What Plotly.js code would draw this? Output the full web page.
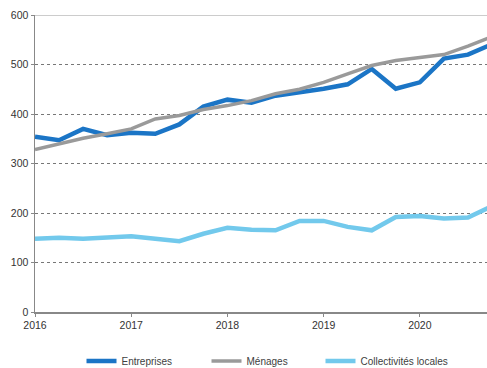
<!DOCTYPE html>
<html>
<head>
<meta charset="utf-8">
<script src="https://cdn.plot.ly/plotly-3.0.1.min.js"></script>
<style>
html,body{margin:0;padding:0;overflow:hidden;background:#fff;}
#chart{width:500px;height:368px;}
</style>
</head>
<body>
<div id="chart"></div>
<script>
// Quarterly dates (decimal years)
const dates = [2016.0, 2016.25, 2016.5, 2016.75, 2017.0, 2017.25, 2017.5, 2017.75,
               2018.0, 2018.25, 2018.5, 2018.75, 2019.0, 2019.25, 2019.5, 2019.75,
               2020.0, 2020.25, 2020.5, 2020.75];
const entreprises = [354, 347, 370, 357, 362, 360, 379, 415, 429, 423, 437, 443,
                     451, 460, 491, 451, 464, 512, 520, 541];
const menages = [328, 339, 351, 360, 370, 390, 397, 409, 417, 427, 441, 450,
                 464, 481, 498, 508, 514, 520, 537, 556];
const collectivites = [148, 150, 148, 150, 153, 148, 143, 158, 170, 166, 165, 184,
                       184, 172, 165, 192, 194, 189, 191, 214];
const seriesNames = ["Entreprises", "Ménages", "Collectivités locales"];
const xTicks = [2016, 2017, 2018, 2019, 2020];
const yTicks = [0, 100, 200, 300, 400, 500, 600];

const font = {family: "Liberation Sans, Arial, sans-serif", size: 10, color: "#404040"};

const traces = [
  {x: dates, y: entreprises, name: seriesNames[0], mode: "lines", legend: "legend",
   line: {color: "#1b75c6", width: 4.5}},
  {x: dates, y: menages, name: seriesNames[1], mode: "lines", legend: "legend2",
   line: {color: "#9a9a9a", width: 3.5}},
  {x: dates, y: collectivites, name: seriesNames[2], mode: "lines", legend: "legend3",
   line: {color: "#72c9ec", width: 4.5}}
];

function leg(xpx) {
  return {orientation: "h", xref: "container", yref: "container",
          x: xpx / 500, xanchor: "left", y: 1 - 361 / 368, yanchor: "middle",
          font: {family: font.family, size: 10, color: "#404040"},
          bgcolor: "rgba(0,0,0,0)"};
}

const layout = {
  width: 500, height: 368,
  margin: {l: 35, r: 8, t: 15, b: 56},
  paper_bgcolor: "#fff", plot_bgcolor: "#fff",
  font: font,
  showlegend: true,
  legend: leg(81.5),
  legend2: leg(206.5),
  legend3: leg(320.5),
  xaxis: {range: [2016, 2020.75], tickvals: xTicks, ticktext: xTicks.map(String),
          showgrid: false, zeroline: false, showline: true, linecolor: "#888", linewidth: 1.5,
          mirror: false, ticks: "outside", ticklen: 3, tickcolor: "#888",
          tickfont: {family: font.family, size: 10.5, color: "#333"}},
  yaxis: {range: [0, 600], tickvals: yTicks, ticktext: yTicks.map(String),
          showgrid: true, gridcolor: "#777", griddash: "dot", gridwidth: 1,
          zeroline: false, showline: true, linecolor: "#888", linewidth: 1.5,
          ticks: "outside", ticklen: 3, tickcolor: "#888",
          tickfont: {family: font.family, size: 10.5, color: "#333"}},
  shapes: [{type: "line", xref: "paper", yref: "y", x0: 0, x1: 1, y0: 600, y1: 600,
            line: {color: "#bbb", width: 1.5}, layer: "above"}]
};

Plotly.newPlot("chart", traces, layout, {displayModeBar: false, staticPlot: true});
</script>
</body>
</html>
